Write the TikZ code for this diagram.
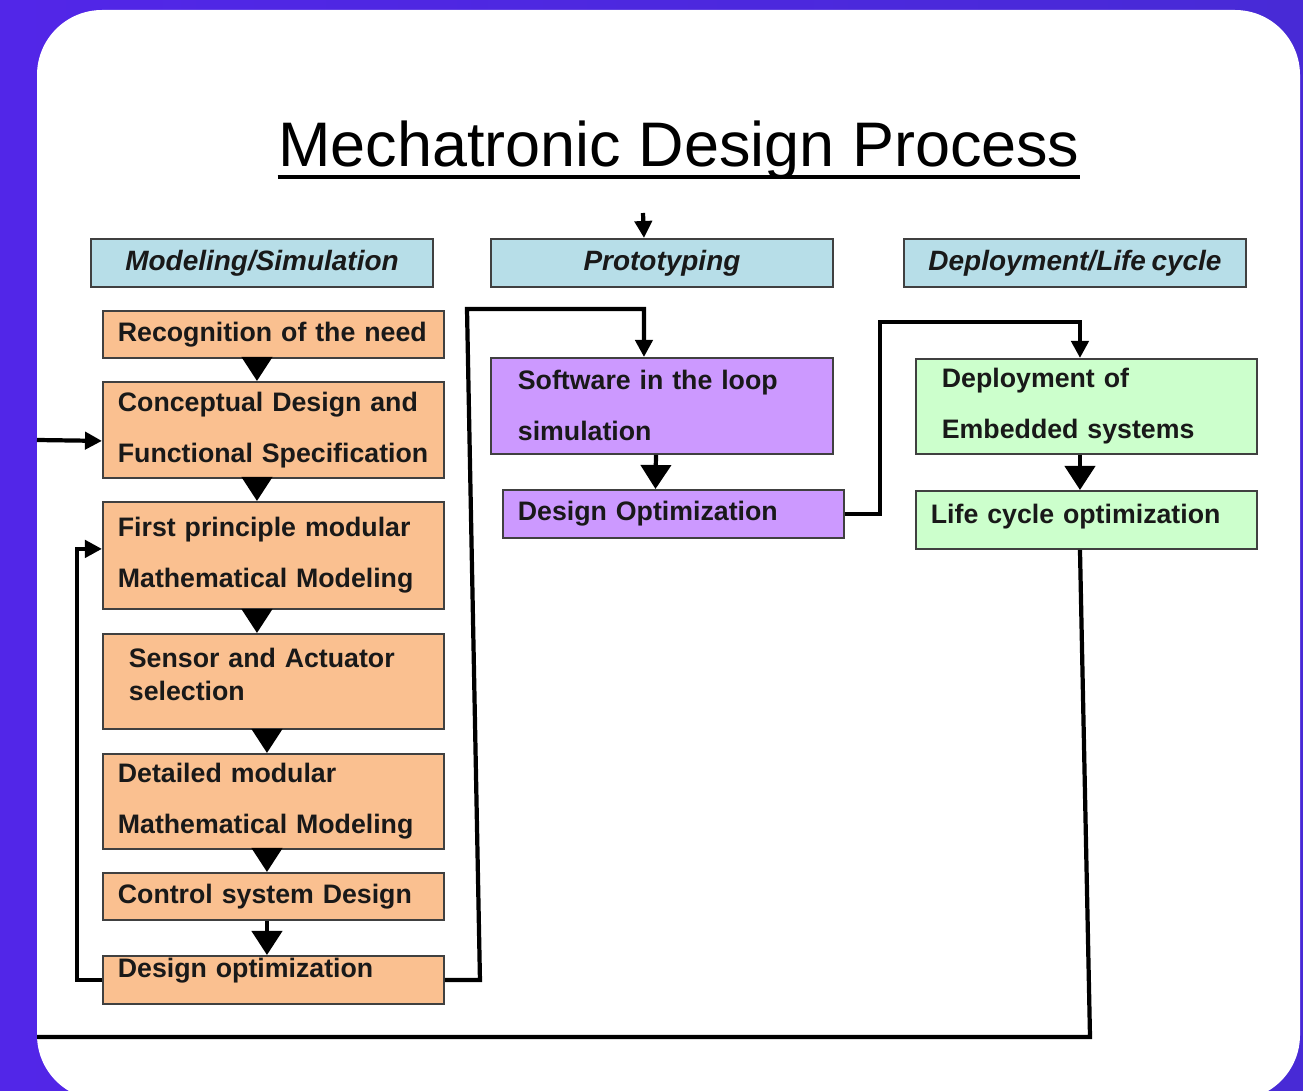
\documentclass[tikz,border=0pt]{standalone}
\usepackage{fontspec}
\setmainfont{Liberation Sans}
\usetikzlibrary{arrows.meta}
\definecolor{headblue}{RGB}{183,222,232}
\definecolor{boxorange}{RGB}{250,192,144}
\definecolor{boxpurple}{RGB}{204,153,255}
\definecolor{boxgreen}{RGB}{204,255,204}
\definecolor{edgegray}{RGB}{64,64,64}
\definecolor{bgleft}{RGB}{82,38,232}
\definecolor{bgright}{RGB}{72,42,214}
\newcommand{\headfont}{\bfseries\itshape\fontsize{7.95}{10}\selectfont\spaceskip=0.2em\relax}
\newcommand{\stepfont}{\bfseries\fontsize{7.6}{14.5}\selectfont\spaceskip=0.15em\relax}
\newcommand{\stepfonttight}{\bfseries\fontsize{7.6}{9.4}\selectfont\spaceskip=0.15em\relax}
\tikzset{
	box/.style={draw=edgegray, line width=0.5pt, anchor=north west, inner sep=0pt, text=black!90},
	headbox/.style={box, fill=headblue, minimum width=3.42cm, minimum height=0.48cm, align=center, font=\headfont},
	stepbox/.style={box, minimum width=3.41cm, align=left, inner xsep=0.15cm, text width=3.11cm, font=\stepfont},
	flow/.style={draw=black, -{Triangle[width=0.3cm,length=0.24cm]}, line width=1.2pt},
	conn/.style={draw=black, -{Triangle[width=0.17cm,length=0.17cm]}, line width=1.2pt},
}
\begin{document}
\begin{tikzpicture}[x=0.01cm, y=-0.01cm]
		\useasboundingbox (0,0) rectangle (1303,1091);
		\fill[left color=bgleft, right color=bgright] (0,0) rectangle (1303,1091);
		\fill[white, rounded corners=0.65cm] (37,10) rectangle (1300,1100);
		\node[font=\fontsize{17.9}{20}\selectfont, inner sep=0pt, anchor=base] (title) at (679,167) {Mechatronic Design Process};
		\draw[line width=1.1pt] ([yshift=-0.1cm]title.base west) -- ([yshift=-0.1cm]title.base east);
		\node[headbox] (hmod) at (90,238) {Modeling/Simulation};
		\node[headbox] (hproto) at (490,238) {Prototyping};
		\node[headbox] (hdeploy) at (903,238) {Deployment/Life cycle};
		\node[stepbox, fill=boxorange, minimum height=0.47cm] (recog) at (102,310) {Recognition of the need};
		\node[stepbox, fill=boxorange, minimum height=0.96cm] (concept) at (102,381) {Conceptual Design and\\Functional Specification};
		\node[stepbox, fill=boxorange, minimum height=1.07cm] (first) at (102,501) {First principle modular\\Mathematical Modeling};
		\node[stepbox, fill=boxorange, minimum height=0.95cm, inner xsep=0.26cm, text width=2.89cm, text depth=13.5pt, font=\stepfonttight] (sensor) at (102,633) {Sensor and Actuator\\selection};
		\node[stepbox, fill=boxorange, minimum height=0.95cm] (detail) at (102,753) {Detailed modular\\Mathematical Modeling};
		\node[stepbox, fill=boxorange, minimum height=0.47cm] (control) at (102,872) {Control system Design};
		\node[stepbox, fill=boxorange, minimum height=0.48cm, text depth=7pt] (dopt) at (102,955) {Design optimization};
		\node[stepbox, fill=boxpurple, minimum height=0.96cm, inner xsep=0.27cm, text width=2.88cm] (sil) at (490,357) {Software in the loop\\simulation};
		\node[stepbox, fill=boxpurple, minimum height=0.48cm] (dpur) at (502,489) {Design Optimization};
		\node[stepbox, fill=boxgreen, minimum height=0.95cm, inner xsep=0.26cm, text width=2.89cm] (deploy) at (915,358) {Deployment of\\Embedded systems};
		\node[stepbox, fill=boxgreen, minimum height=0.58cm, text depth=3.5pt] (life) at (915,490) {Life cycle optimization};
		\draw[flow] ([xshift=-0.165cm]recog.south) -- ([xshift=-0.165cm]concept.north);
		\draw[flow] ([xshift=-0.165cm]concept.south) -- ([xshift=-0.165cm]first.north);
		\draw[flow] ([xshift=-0.165cm]first.south) -- ([xshift=-0.165cm]sensor.north);
		\draw[flow] ([xshift=-0.065cm]sensor.south) -- ([xshift=-0.065cm]detail.north);
		\draw[flow] ([xshift=-0.065cm]detail.south) -- ([xshift=-0.065cm]control.north);
		\draw[flow] ([xshift=-0.065cm]control.south) -- ([xshift=-0.065cm]dopt.north);
		\draw[flow] ([xshift=-0.06cm]sil.south) -- ([xshift=-0.18cm]dpur.north);
		\draw[flow] ([xshift=-0.065cm]deploy.south) -- ([xshift=-0.065cm]life.north);
		\coordinate (start) at (643,213);
		\coordinate (entry) at (37,440);
		\coordinate (exit) at (37,1037);
		\draw[conn] (start) -- ([xshift=-0.18cm]hproto.north);
		\draw[conn] (entry) -- ([yshift=-0.11cm]concept.west);
		\draw[conn] (dopt.west) -- ++(-25,0) |- ([yshift=0.065cm]first.west);
		\draw[conn] (dopt.east) -- ++(35,0) -- (467,309) -| ([xshift=-0.18cm]sil.north);
		\draw[conn] (dpur.east) -- ++(35,0) -- ++(0,-192) -| ([xshift=-0.065cm]deploy.north);
		\draw[draw=black, line width=1.2pt] ([xshift=-0.065cm]life.south) -- (1090,1037) -- (exit);
	\end{tikzpicture}
\end{document}
